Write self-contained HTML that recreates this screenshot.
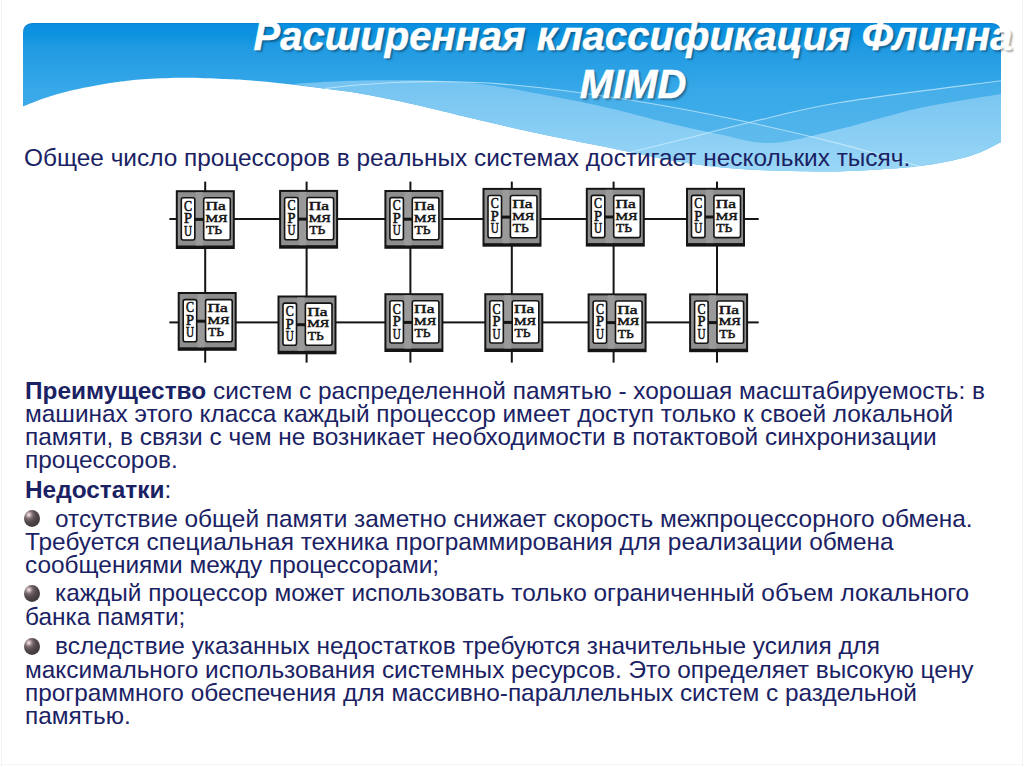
<!DOCTYPE html>
<html><head><meta charset="utf-8">
<style>
html,body{margin:0;padding:0;background:#fff;}
body{width:1024px;height:767px;position:relative;overflow:hidden;font-family:"Liberation Sans",sans-serif;}
#banner{position:absolute;left:0;top:0;}
.title{position:absolute;left:0;width:1266px;text-align:center;color:#fff;font-weight:bold;font-style:italic;font-size:40px;white-space:nowrap;text-shadow:2px 2px 2px rgba(0,0,0,0.35);-webkit-text-stroke:0.5px #fff;line-height:1;}
.t{position:absolute;left:25px;color:#1a2264;font-size:24.4px;white-space:nowrap;line-height:1;}
.t b{font-weight:bold;}
.bul{position:absolute;left:24px;width:16px;height:17px;border-radius:50%;background:radial-gradient(circle 15px at 30% 28%,#fbeef0 0px,#c4b0b4 1.8px,#7a6a6e 4px,#564b4e 7px,#453c3e 11px,#3c3435 15px);}
#diag{position:absolute;left:0;top:0;}
</style></head><body>
<svg id="banner" width="1024" height="200" viewBox="0 0 1024 200">
<defs>
<linearGradient id="g1" gradientUnits="userSpaceOnUse" x1="0" y1="23" x2="0" y2="175">
<stop offset="0" stop-color="#0a8ee0"/><stop offset="0.08" stop-color="#0e93e0"/><stop offset="0.16" stop-color="#209ae2"/><stop offset="0.44" stop-color="#37a8e8"/><stop offset="1" stop-color="#4db4ec"/>
</linearGradient>
<linearGradient id="g2" gradientUnits="userSpaceOnUse" x1="0" y1="80" x2="0" y2="172">
<stop offset="0" stop-color="#74c3f1"/><stop offset="1" stop-color="#9ad6f6"/>
</linearGradient>
</defs>
<path d="M23,33 Q23,23 33,23 L991,23 Q1001,23 1001,33 L1001,142.3 C995.8,144.6 983.5,152.1 970.0,156.0 C956.5,159.9 940.0,163.5 920.0,166.0 C900.0,168.5 870.0,170.1 850.0,171.0 C830.0,171.9 818.3,171.5 800.0,171.2 C781.7,170.9 760.0,170.5 740.0,169.0 C720.0,167.5 700.0,165.2 680.0,162.0 C660.0,158.8 643.3,154.6 620.0,149.9 C596.7,145.2 563.3,138.6 540.0,133.7 C516.7,128.8 496.7,124.1 480.0,120.3 C463.3,116.5 453.3,113.8 440.0,110.6 C426.7,107.4 413.3,104.1 400.0,101.2 C386.7,98.4 373.3,95.6 360.0,93.4 C346.7,91.2 333.3,89.7 320.0,88.0 C306.7,86.3 292.0,84.6 280.0,83.3 C268.0,82.0 257.5,81.0 248.0,80.3 C238.5,79.6 233.5,79.4 223.0,79.0 C212.5,78.6 197.7,77.8 185.0,77.8 C172.3,77.8 157.7,78.4 147.0,79.0 C136.3,79.6 129.5,80.5 121.0,81.6 C112.5,82.7 104.3,83.9 96.0,85.4 C87.7,86.9 79.5,88.4 71.0,90.5 C62.5,92.6 53.0,95.3 45.0,98.0 C37.0,100.7 26.7,105.0 23.0,106.4 Z" fill="url(#g1)"/>
<path d="M24,30 Q25,24 33,23.6 L991,23.6 Q999,24 1000,30" fill="none" stroke="#0a7cc8" stroke-opacity="0.6" stroke-width="1"/>
<path d="M325,88.4 C330.8,87.8 347.5,85.8 360.0,84.8 C372.5,83.8 386.7,82.7 400.0,82.2 C413.3,81.7 423.3,81.4 440.0,81.7 C456.7,82.0 476.7,82.1 500.0,83.9 C523.3,85.7 553.3,89.2 580.0,92.7 C606.7,96.2 631.8,100.0 660.0,105.0 C688.2,110.0 719.4,116.0 749.4,122.5 C779.4,129.0 811.6,136.6 840.0,143.9 C868.4,151.2 906.4,162.7 919.7,166.4 C908.1,167.2 870.0,170.2 850.0,171.0 C830.0,171.8 818.3,171.5 800.0,171.2 C781.7,170.9 760.0,170.5 740.0,169.0 C720.0,167.5 700.0,165.2 680.0,162.0 C660.0,158.8 643.3,154.6 620.0,149.9 C596.7,145.2 563.3,138.6 540.0,133.7 C516.7,128.8 496.7,124.1 480.0,120.3 C463.3,116.5 453.3,113.8 440.0,110.6 C426.7,107.4 413.3,104.1 400.0,101.2 C386.7,98.4 372.5,95.5 360.0,93.4 C347.5,91.3 330.8,89.2 325.0,88.4 Z" fill="#fff" fill-opacity="0.08"/>
<path d="M631,152 C639.2,150.0 660.3,144.9 680.0,140.0 C699.7,135.1 722.7,128.8 749.4,122.5 C776.1,116.2 798.1,109.5 840.0,102.5 C881.9,95.5 974.2,84.4 1001.0,80.8 L1001,142.3 C995.8,144.6 983.5,152.1 970.0,156.0 C956.5,159.9 940.0,163.5 920.0,166.0 C900.0,168.5 870.0,170.1 850.0,171.0 C830.0,171.9 818.3,171.5 800.0,171.2 C781.7,170.9 760.0,170.5 740.0,169.0 C720.0,167.5 698.2,164.8 680.0,162.0 C661.8,159.2 639.2,153.7 631.0,152.0 Z" fill="#fff" fill-opacity="0.08"/>
<path d="M292,84 C296.7,83.7 308.7,82.8 320.0,82.2 C331.3,81.6 346.7,80.9 360.0,80.6 C373.3,80.3 386.7,80.2 400.0,80.2 C413.3,80.2 426.7,80.2 440.0,80.8 C453.3,81.4 466.7,82.4 480.0,84.0 C493.3,85.6 500.0,86.6 520.0,90.3 C540.0,94.0 576.7,100.9 600.0,106.0 C623.3,111.1 640.0,116.2 660.0,121.0 C680.0,125.8 701.3,130.9 720.0,134.6 C738.7,138.3 752.0,143.9 772.0,143.0 C792.0,142.1 815.3,134.8 840.0,129.0 C864.7,123.2 893.2,113.8 920.0,108.0 C946.8,102.2 987.5,96.3 1001.0,94.0 L1001,142.3 C995.8,144.6 983.5,152.1 970.0,156.0 C956.5,159.9 940.0,163.5 920.0,166.0 C900.0,168.5 870.0,170.1 850.0,171.0 C830.0,171.9 818.3,171.5 800.0,171.2 C781.7,170.9 760.0,170.5 740.0,169.0 C720.0,167.5 700.0,165.2 680.0,162.0 C660.0,158.8 643.3,154.6 620.0,149.9 C596.7,145.2 563.3,138.6 540.0,133.7 C516.7,128.8 496.7,124.1 480.0,120.3 C463.3,116.5 453.3,113.8 440.0,110.6 C426.7,107.4 413.3,104.1 400.0,101.2 C386.7,98.4 373.3,95.6 360.0,93.4 C346.7,91.2 326.7,88.9 320.0,88.0 Z" fill="url(#g2)"/>
<path d="M325,88.4 C330.8,87.8 347.5,85.8 360.0,84.8 C372.5,83.8 386.7,82.7 400.0,82.2 C413.3,81.7 423.3,81.4 440.0,81.7 C456.7,82.0 476.7,82.1 500.0,83.9 C523.3,85.7 553.3,89.2 580.0,92.7 C606.7,96.2 631.8,100.0 660.0,105.0 C688.2,110.0 719.4,116.0 749.4,122.5 C779.4,129.0 811.6,136.6 840.0,143.9 C868.4,151.2 906.4,162.7 919.7,166.4" fill="none" stroke="#d8f2ff" stroke-opacity="0.65" stroke-width="1.1"/>
<path d="M631,152 C639.2,150.0 660.3,144.9 680.0,140.0 C699.7,135.1 722.7,128.8 749.4,122.5 C776.1,116.2 798.1,109.5 840.0,102.5 C881.9,95.5 974.2,84.4 1001.0,80.8" fill="none" stroke="#d8f2ff" stroke-opacity="0.65" stroke-width="1.1"/>
</svg>
<div class="title" style="top:16px;">Расширенная классификация Флинна</div>
<div class="title" style="top:64px;">MIMD</div>
<svg id="diag" width="1024" height="400" viewBox="0 0 1024 400">
<defs><g id="bx">
<rect x="0" y="0" width="59" height="58.8" fill="#141414"/>
<rect x="2" y="2" width="55" height="53.3" fill="#8e8e8e"/>
<rect x="20" y="2" width="7" height="53.3" fill="#9a9a9a"/><rect x="19" y="27.7" width="9" height="3" fill="#141414"/>
<rect x="5.5" y="7.6" width="13.5" height="42.2" rx="2" fill="#fff" stroke="#141414" stroke-width="1.6"/>
<rect x="27.9" y="7.6" width="26.6" height="42.2" rx="2" fill="#fff" stroke="#141414" stroke-width="1.6"/>
<g font-family="Liberation Serif" fill="#141414" stroke="#141414" stroke-width="0.6" font-size="15">
<text x="8.3" y="20.4" textLength="8" lengthAdjust="spacingAndGlyphs">C</text>
<text x="8.3" y="33" textLength="8" lengthAdjust="spacingAndGlyphs">P</text>
<text x="8.3" y="45.4" textLength="8" lengthAdjust="spacingAndGlyphs">U</text>
</g>
<g font-family="Liberation Serif" fill="#141414" stroke="#141414" stroke-width="0.5" font-size="12.5">
<text x="29.7" y="20.3" textLength="20.3" lengthAdjust="spacingAndGlyphs">Па</text>
<text x="29.7" y="31.8" font-size="11" textLength="22" lengthAdjust="spacingAndGlyphs">МЯ</text>
<text x="30.2" y="44.3" font-size="12.5" textLength="16" lengthAdjust="spacingAndGlyphs">ТЬ</text>
</g>
</g></defs>
<rect x="204.2" y="181.6" width="2" height="181" fill="#141414"/>
<rect x="305.6" y="181.6" width="2" height="181" fill="#141414"/>
<rect x="409.4" y="181.6" width="2" height="181" fill="#141414"/>
<rect x="510.8" y="181.6" width="2" height="181" fill="#141414"/>
<rect x="612.6" y="181.6" width="2" height="181" fill="#141414"/>
<rect x="716" y="181.6" width="2" height="181" fill="#141414"/>
<rect x="169.4" y="218" width="589.3" height="2" fill="#141414"/>
<rect x="169.4" y="321.4" width="589.3" height="2" fill="#141414"/>
<use href="#bx" x="175.8" y="190.2"/>
<use href="#bx" x="279.1" y="189.9"/>
<use href="#bx" x="384.4" y="190"/>
<use href="#bx" x="482.5" y="187.9"/>
<use href="#bx" x="585.8" y="187.8"/>
<use href="#bx" x="686" y="187.8"/>
<use href="#bx" x="177.7" y="292"/>
<use href="#bx" x="277.5" y="295.5"/>
<use href="#bx" x="384.4" y="293.2"/>
<use href="#bx" x="484.3" y="293.2"/>
<use href="#bx" x="587.6" y="293.4"/>
<use href="#bx" x="689.1" y="293.4"/>
</svg>
<div class="t" style="top:146px;left:24px;">Общее число процессоров в реальных системах достигает нескольких тысяч.</div>
<div class="t" style="top:379px;"><b>Преимущество</b> систем с распределенной памятью - хорошая масштабируемость: в</div>
<div class="t" style="top:402px;">машинах этого класса каждый процессор имеет доступ только к своей локальной</div>
<div class="t" style="top:425px;">памяти, в связи с чем не возникает необходимости в потактовой синхронизации</div>
<div class="t" style="top:448px;">процессоров.</div>
<div class="t" style="top:478px;"><b>Недостатки</b>:</div>
<div class="bul" style="top:509.5px;"></div>
<div class="t" style="top:507px;left:55px;">отсутствие общей памяти заметно снижает скорость межпроцессорного обмена.</div>
<div class="t" style="top:530px;">Требуется специальная техника программирования для реализации обмена</div>
<div class="t" style="top:553px;">сообщениями между процессорами;</div>
<div class="bul" style="top:584.5px;"></div>
<div class="t" style="top:581px;left:55px;">каждый процессор может использовать только ограниченный объем локального</div>
<div class="t" style="top:605px;">банка памяти;</div>
<div class="bul" style="top:637.5px;"></div>
<div class="t" style="top:634px;left:55px;">вследствие указанных недостатков требуются значительные усилия для</div>
<div class="t" style="top:658px;">максимального использования системных ресурсов. Это определяет высокую цену</div>
<div class="t" style="top:681px;">программного обеспечения для массивно-параллельных систем с раздельной</div>
<div class="t" style="top:704px;">памятью.</div>
<div class="frame" style="position:absolute;left:1px;top:0;width:1px;height:767px;background:#f3f3f3"></div><div class="frame" style="position:absolute;left:1022px;top:0;width:1px;height:767px;background:#f3f3f3"></div><div class="frame" style="position:absolute;left:0;top:764px;width:1024px;height:1px;background:#f5f5f5"></div>
</body></html>
